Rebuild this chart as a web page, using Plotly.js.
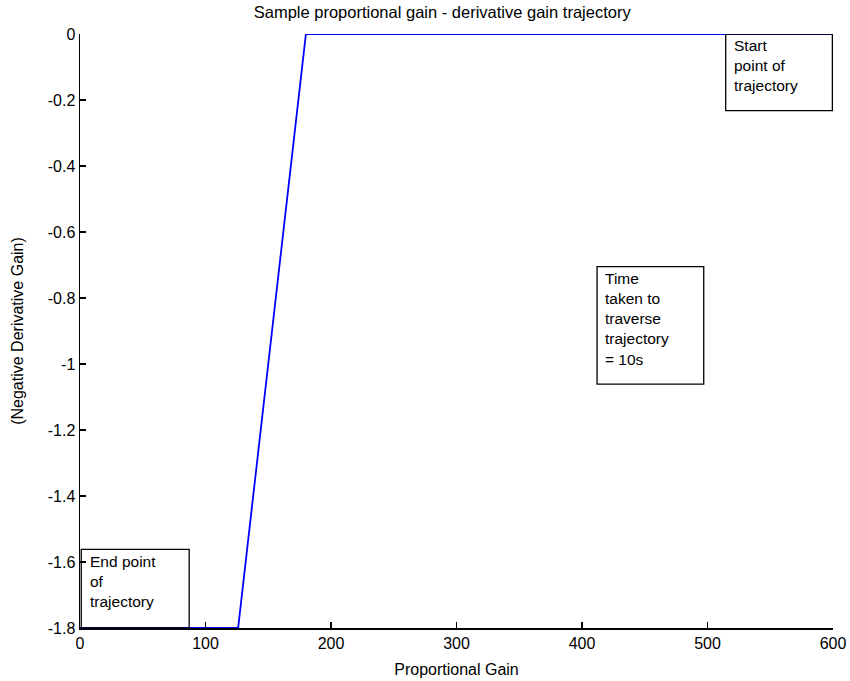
<!DOCTYPE html>
<html>
<head>
<meta charset="utf-8">
<script src="https://cdn.plot.ly/plotly-3.0.1.min.js"></script>
<style>
  html, body { margin: 0; padding: 0; background: #fff; }
  #chart { width: 850px; height: 681px; }
</style>
</head>
<body>
<div id="chart"></div>
<script>
// Gain trajectory: proportional gain vs. negative derivative gain
const proportionalGain = [600, 180, 126, 0];
const negDerivativeGain = [0, 0, -1.8, -1.8];

const xTicks = [0, 100, 200, 300, 400, 500, 600];
const yTicks = [0, -0.2, -0.4, -0.6, -0.8, -1, -1.2, -1.4, -1.6, -1.8];
const yTickText = ['0', '-0.2', '-0.4', '-0.6', '-0.8', '-1', '-1.2', '-1.4', '-1.6', '-1.8'];

// Text boxes: [x0, x1, y0, y1] in data units, plus their text
const noteBoxes = [
  { box: [514.5, 599.5, -0.232, 0], text: 'Start<br>point of<br>trajectory' },
  { box: [412, 497, -1.061, -0.705], text: 'Time<br>taken to<br>traverse<br>trajectory<br>= 10s' },
  { box: [1, 87, -1.8, -1.562], text: 'End point<br>of<br>trajectory' }
];

const family = 'Liberation Sans, Arial, sans-serif';
const font = { family: family, size: 16, color: '#000' };

const shapes = noteBoxes.map(n => ({
  type: 'rect', xref: 'x', yref: 'y',
  x0: n.box[0], x1: n.box[1], y0: n.box[2], y1: n.box[3],
  line: { color: '#000', width: 1.3 }, fillcolor: 'rgba(0,0,0,0)'
}));

const annotations = noteBoxes.map(n => ({
  xref: 'x', yref: 'y', x: n.box[0] + 5, y: n.box[3] - 0.004,
  xanchor: 'left', yanchor: 'top', align: 'left',
  text: n.text, showarrow: false,
  font: { family: family, size: 15.5, color: '#000' }
}));

const trace = {
  x: proportionalGain, y: negDerivativeGain,
  type: 'scatter', mode: 'lines',
  line: { color: '#0000ff', width: 1.8 },
  hoverinfo: 'skip'
};

const layout = {
  width: 850, height: 681,
  margin: { l: 80, r: 17, t: 34, b: 53 },
  paper_bgcolor: '#fff', plot_bgcolor: '#fff',
  showlegend: false,
  font: font,
  title: {
    text: 'Sample proportional gain - derivative gain trajectory',
    font: { family: family, size: 16.5, color: '#000' },
    xref: 'paper', x: 0.481, xanchor: 'center',
    yref: 'container', y: 0.982, yanchor: 'middle'
  },
  xaxis: {
    range: [0, 600], tickvals: xTicks, ticktext: xTicks.map(String),
    ticks: 'inside', ticklen: 6, tickwidth: 1.3, tickcolor: '#000',
    showline: true, linecolor: '#000', linewidth: 1.5,
    showgrid: false, zeroline: false, fixedrange: true,
    tickfont: { family: family, size: 16, color: '#000' },
    title: { text: 'Proportional Gain', font: { family: family, size: 16, color: '#000' }, standoff: 13 }
  },
  yaxis: {
    range: [-1.8, 0], tickvals: yTicks, ticktext: yTickText,
    ticks: 'inside', ticklen: 6, tickwidth: 1.3, tickcolor: '#000',
    showline: true, linecolor: '#000', linewidth: 1.5,
    showgrid: false, zeroline: false, fixedrange: true,
    tickfont: { family: family, size: 16, color: '#000' },
    title: { text: '(Negative Derivative Gain)', font: { family: family, size: 16, color: '#000' }, standoff: 20 }
  },
  shapes: shapes,
  annotations: annotations
};

Plotly.newPlot('chart', [trace], layout, { displayModeBar: false, staticPlot: true });
</script>
</body>
</html>
